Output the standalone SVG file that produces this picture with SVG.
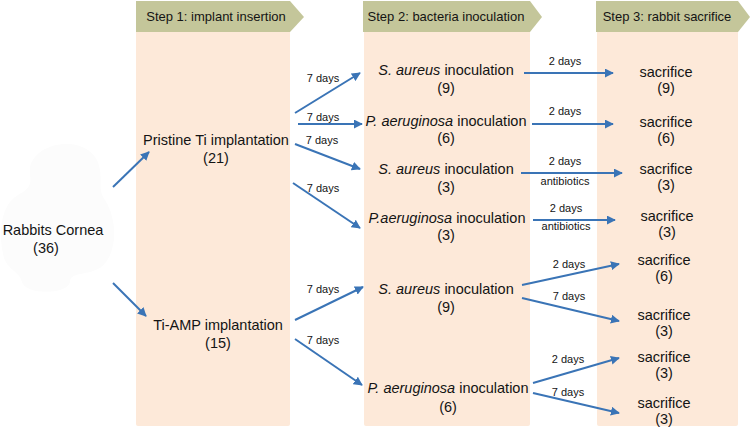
<svg xmlns="http://www.w3.org/2000/svg" width="750" height="427" viewBox="0 0 750 427">
<defs>
<style>
.col{fill:#fde9d9}
.ban{fill:#c4c69a}
.bt{font-family:"Liberation Sans",Arial,sans-serif;font-size:13px;fill:#141414;text-anchor:middle}
.t{font-family:"Liberation Sans",Arial,sans-serif;font-size:14.5px;fill:#141414;text-anchor:middle}
.s{font-family:"Liberation Sans",Arial,sans-serif;font-size:11px;fill:#141414;text-anchor:middle}
.c line{stroke:#3a74b6;stroke-width:2;marker-end:url(#ah)}
</style>
<marker id="ah" viewBox="0 0 10 10" refX="9" refY="5" markerWidth="4.5" markerHeight="4.5" orient="auto" markerUnits="strokeWidth">
<path d="M0,0 L10,5 L0,10 Z" fill="#3a74b6"/>
</marker>
</defs>
<rect width="750" height="427" fill="#ffffff"/>

<g id="columns">
<rect class="col" x="136" y="30" width="154" height="396" rx="2"/>
<rect class="col" x="364" y="30" width="166" height="396" rx="2"/>
<rect class="col" x="597" y="30" width="141" height="396" rx="2"/>
</g>

<g id="step1">
<path class="ban" d="M136,1 H290 L304,17 L290,32 H136 Z"/>
<text class="bt" x="216" y="21">Step 1: implant insertion</text>
</g>
<g id="step2">
<path class="ban" d="M363,1 H530 L542,17 L530,32 H363 Z"/>
<text class="bt" x="446" y="21">Step 2: bacteria inoculation</text>
</g>
<g id="step3">
<path class="ban" d="M596,1 H738 L750,17 L738,32 H596 Z"/>
<text class="bt" x="667" y="21">Step 3: rabbit sacrifice</text>
</g>

<g id="rabbits">
<path d="M30,175 C25,140 95,130 100,170 C102,185 98,190 105,200 C118,220 118,255 100,268 C85,276 70,272 70,282 C68,295 25,295 22,282 C20,272 8,270 4,258 C-2,235 0,205 18,195 C28,190 32,185 30,175 Z" fill="#fcfcfc"/>
<text class="t" x="53" y="235">Rabbits Cornea</text>
<text class="t" x="46" y="253">(36)</text>
</g>

<g id="pristine">
<text class="t" x="216" y="145">Pristine Ti implantation</text>
<text class="t" x="216" y="163">(21)</text>
</g>
<g id="tiamp">
<text class="t" x="218" y="330">Ti-AMP implantation</text>
<text class="t" x="218" y="348">(15)</text>
</g>

<g id="inoc1">
<text class="t" x="446" y="75"><tspan font-style="italic">S. aureus</tspan> inoculation</text>
<text class="t" x="446" y="93">(9)</text>
</g>
<g id="inoc2">
<text class="t" x="446" y="126"><tspan font-style="italic">P. aeruginosa</tspan> inoculation</text>
<text class="t" x="446" y="143">(6)</text>
</g>
<g id="inoc3">
<text class="t" x="446" y="174"><tspan font-style="italic">S. aureus</tspan> inoculation</text>
<text class="t" x="446" y="192">(3)</text>
</g>
<g id="inoc4">
<text class="t" x="447" y="223"><tspan font-style="italic">P.aeruginosa</tspan> inoculation</text>
<text class="t" x="446" y="240">(3)</text>
</g>
<g id="inoc5">
<text class="t" x="446" y="294"><tspan font-style="italic">S. aureus</tspan> inoculation</text>
<text class="t" x="446" y="312">(9)</text>
</g>
<g id="inoc6">
<text class="t" x="448" y="393"><tspan font-style="italic">P. aeruginosa</tspan> inoculation</text>
<text class="t" x="448" y="412">(6)</text>
</g>

<g id="sac1"><text class="t" x="666" y="77">sacrifice</text><text class="t" x="666" y="93">(9)</text></g>
<g id="sac2"><text class="t" x="666" y="127">sacrifice</text><text class="t" x="666" y="143">(6)</text></g>
<g id="sac3"><text class="t" x="666" y="174">sacrifice</text><text class="t" x="666" y="190">(3)</text></g>
<g id="sac4"><text class="t" x="667" y="221">sacrifice</text><text class="t" x="667" y="237">(3)</text></g>
<g id="sac5"><text class="t" x="664" y="265">sacrifice</text><text class="t" x="664" y="281">(6)</text></g>
<g id="sac6"><text class="t" x="664" y="320">sacrifice</text><text class="t" x="664" y="336">(3)</text></g>
<g id="sac7"><text class="t" x="664" y="362">sacrifice</text><text class="t" x="664" y="378">(3)</text></g>
<g id="sac8"><text class="t" x="664" y="408">sacrifice</text><text class="t" x="664" y="424">(3)</text></g>

<g id="connectors" class="c">
<line x1="113" y1="187" x2="149" y2="152"/>
<line x1="113" y1="283" x2="146" y2="316"/>
<line x1="295" y1="113" x2="360" y2="73"/>
<line x1="298" y1="124" x2="362" y2="124"/>
<line x1="295" y1="144" x2="360" y2="169"/>
<line x1="293" y1="183" x2="360" y2="228"/>
<line x1="295" y1="320" x2="363" y2="287"/>
<line x1="295" y1="339" x2="362" y2="385"/>
<line x1="524" y1="73" x2="613" y2="73"/>
<line x1="532" y1="124" x2="613" y2="124"/>
<line x1="521" y1="173" x2="622" y2="173"/>
<line x1="533" y1="220" x2="615" y2="220"/>
<line x1="522" y1="285" x2="619" y2="264"/>
<line x1="522" y1="298" x2="619" y2="321"/>
<line x1="533" y1="383" x2="619" y2="358"/>
<line x1="533" y1="393" x2="619" y2="413"/>
</g>

<g id="labels">
<text class="s" x="323" y="82">7 days</text>
<text class="s" x="323" y="121">7 days</text>
<text class="s" x="322" y="144">7 days</text>
<text class="s" x="323" y="192">7 days</text>
<text class="s" x="323" y="293">7 days</text>
<text class="s" x="323" y="344">7 days</text>
<text class="s" x="565" y="65">2 days</text>
<text class="s" x="565" y="115">2 days</text>
<text class="s" x="565" y="165">2 days</text>
<text class="s" x="565" y="185">antibiotics</text>
<text class="s" x="566" y="212">2 days</text>
<text class="s" x="566" y="230">antibiotics</text>
<text class="s" x="569" y="268">2 days</text>
<text class="s" x="569" y="300">7 days</text>
<text class="s" x="568" y="363">2 days</text>
<text class="s" x="568" y="396">7 days</text>
</g>
</svg>
